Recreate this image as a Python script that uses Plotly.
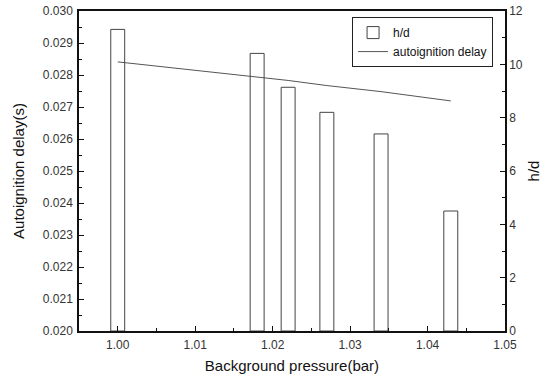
import plotly.graph_objects as go

pressure = [1.000, 1.018, 1.022, 1.027, 1.034, 1.043]
h_over_d = [11.31, 10.41, 9.14, 8.20, 7.39, 4.50]
autoignition_delay = [0.02841, 0.02793, 0.02783, 0.02767, 0.02748, 0.02719]

font_family = "Liberation Sans, Arial, sans-serif"

fig = go.Figure()
fig.add_trace(go.Bar(
    x=pressure, y=h_over_d, name="h/d", yaxis="y2", width=0.0018,
    marker=dict(color="rgba(0,0,0,0)", line=dict(color="#444", width=1)),
))
fig.add_trace(go.Scatter(
    x=pressure, y=autoignition_delay, name="autoignition delay", yaxis="y",
    mode="lines", line=dict(color="#555", width=1),
))

fig.update_layout(
    width=550, height=381,
    margin=dict(l=79, r=45, t=11, b=50),
    paper_bgcolor="white", plot_bgcolor="white",
    font=dict(family=font_family, size=12, color="#333"),
    showlegend=True,
    legend=dict(x=0.641, y=0.981, xanchor="left", yanchor="top",
                bordercolor="#222", borderwidth=1, bgcolor="white",
                font=dict(size=12, color="#111"), traceorder="normal"),
    xaxis=dict(range=[0.995, 1.05], tick0=1.0, dtick=0.01, tickformat=".2f",
               showline=True, linecolor="#111", linewidth=1.5, mirror=True,
               ticks="inside", ticklen=5, tickcolor="#111", showgrid=False,
               zeroline=False, ticklabelstandoff=2, automargin=False,
               minor=dict(dtick=0.005, ticks="inside", ticklen=3, tickcolor="#111"),
               title=dict(text="Background pressure(bar)", font=dict(size=15, color="#111"), standoff=9)),
    yaxis=dict(range=[0.020, 0.030], tick0=0.020, dtick=0.001, tickformat=".3f",
               showline=True, linecolor="#111", linewidth=1.5, automargin=False,
               ticks="inside", ticklen=5, tickcolor="#111", showgrid=False,
               zeroline=False, ticklabelstandoff=2,
               minor=dict(dtick=0.0005, ticks="inside", ticklen=3, tickcolor="#111"),
               title=dict(text="Autoignition delay(s)", font=dict(size=15, color="#111"), standoff=15)),
    yaxis2=dict(range=[0, 12], tick0=0, dtick=2, overlaying="y", side="right",
                showline=True, linecolor="#111", linewidth=1.5, automargin=False,
                ticks="inside", ticklen=5, tickcolor="#111", showgrid=False,
                zeroline=False,
                minor=dict(dtick=1, ticks="inside", ticklen=3, tickcolor="#111"),
                title=dict(text="h/d", font=dict(size=15, color="#111"), standoff=7)),
)

fig.write_html("out.html", config={"displayModeBar": False, "responsive": False},
               post_script="document.body.style.margin='0';document.body.style.padding='0';")
